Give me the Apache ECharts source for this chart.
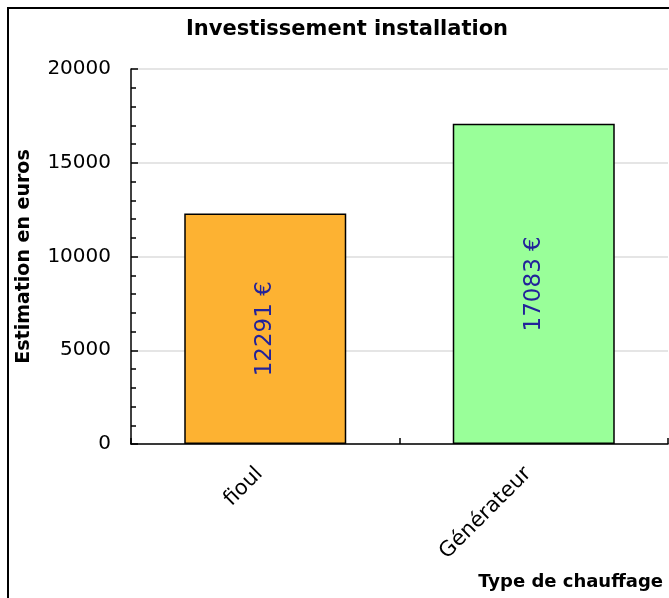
<!DOCTYPE html>
<html><head><meta charset="utf-8">
<script src="https://cdn.jsdelivr.net/npm/echarts@6/dist/echarts.min.js"></script>
<style>html,body{margin:0;padding:0;background:#fff}#c{width:669px;height:598px}</style>
</head><body><div id="c"></div>
<script>
const categories = ['fioul', 'Générateur'];
const values = [12291, 17083];
const barColors = ['#FDB232', '#99FF99'];
const yTicks = [0, 5000, 10000, 15000, 20000];

const chart = echarts.init(document.getElementById('c'), null, {renderer: 'canvas'});
chart.setOption({
  animation: false,
  backgroundColor: '#fff',
  title: {
    text: 'Investissement installation',
    left: 342, top: 14, textAlign: 'center',
    textStyle: {fontFamily: 'DejaVu Sans', fontWeight: 'bold', fontSize: 21, color: '#000'}
  },
  graphic: [{
    type: 'rect', shape: {x: 8, y: 8, width: 800, height: 800},
    style: {fill: 'none', stroke: '#000', lineWidth: 2}, silent: true
  }],
  grid: {left: 131, top: 69, width: 537, height: 375, containLabel: false},
  xAxis: {
    type: 'category', data: categories,
    axisLine: {lineStyle: {color: '#000', width: 1.5}},
    axisTick: {show: true, inside: true, length: 6, alignWithLabel: false, lineStyle: {color: '#000', width: 1.5}},
    axisLabel: {rotate: 45, fontFamily: 'DejaVu Sans', fontSize: 21, color: '#000', margin: 21,
      padding: [0, 8, 0, 0]},
    name: 'Type de chauffage', nameLocation: 'end',
    nameGap: 0,
    nameTextStyle: {fontFamily: 'DejaVu Sans', fontWeight: 'bold', fontSize: 18, color: '#000',
      align: 'right', verticalAlign: 'top', padding: [129, 5, 0, 0]},
    splitLine: {show: false}
  },
  yAxis: {
    type: 'value', min: yTicks[0], max: yTicks[yTicks.length - 1], interval: 5000,
    axisLine: {show: true, lineStyle: {color: '#000', width: 1.5}},
    axisTick: {show: true, inside: true, length: 7, lineStyle: {color: '#000', width: 1.5}},
    minorTick: {show: true, splitNumber: 5, length: 5, lineStyle: {color: '#000', width: 1.5}},
    axisLabel: {fontFamily: 'DejaVu Sans', fontSize: 20, color: '#000', margin: 20,
      formatter: v => String(v)},
    splitLine: {show: true, lineStyle: {color: '#dddddd', width: 1.5}},
    name: 'Estimation en euros', nameLocation: 'middle', nameGap: 97, nameRotate: 90,
    nameTextStyle: {fontFamily: 'DejaVu Sans', fontWeight: 'bold', fontSize: 19, color: '#000'}
  },
  series: [{
    type: 'bar', barWidth: 162,
    data: values.map((v, i) => ({value: v, itemStyle: {color: barColors[i]}})),
    itemStyle: {borderColor: '#000', borderWidth: 1.5},
    label: {
      show: true, position: 'inside', rotate: 90,
      formatter: p => p.value + ' €',
      fontFamily: 'DejaVu Sans', fontSize: 23, color: '#22229a'
    }
  }]
});
</script></body></html>
